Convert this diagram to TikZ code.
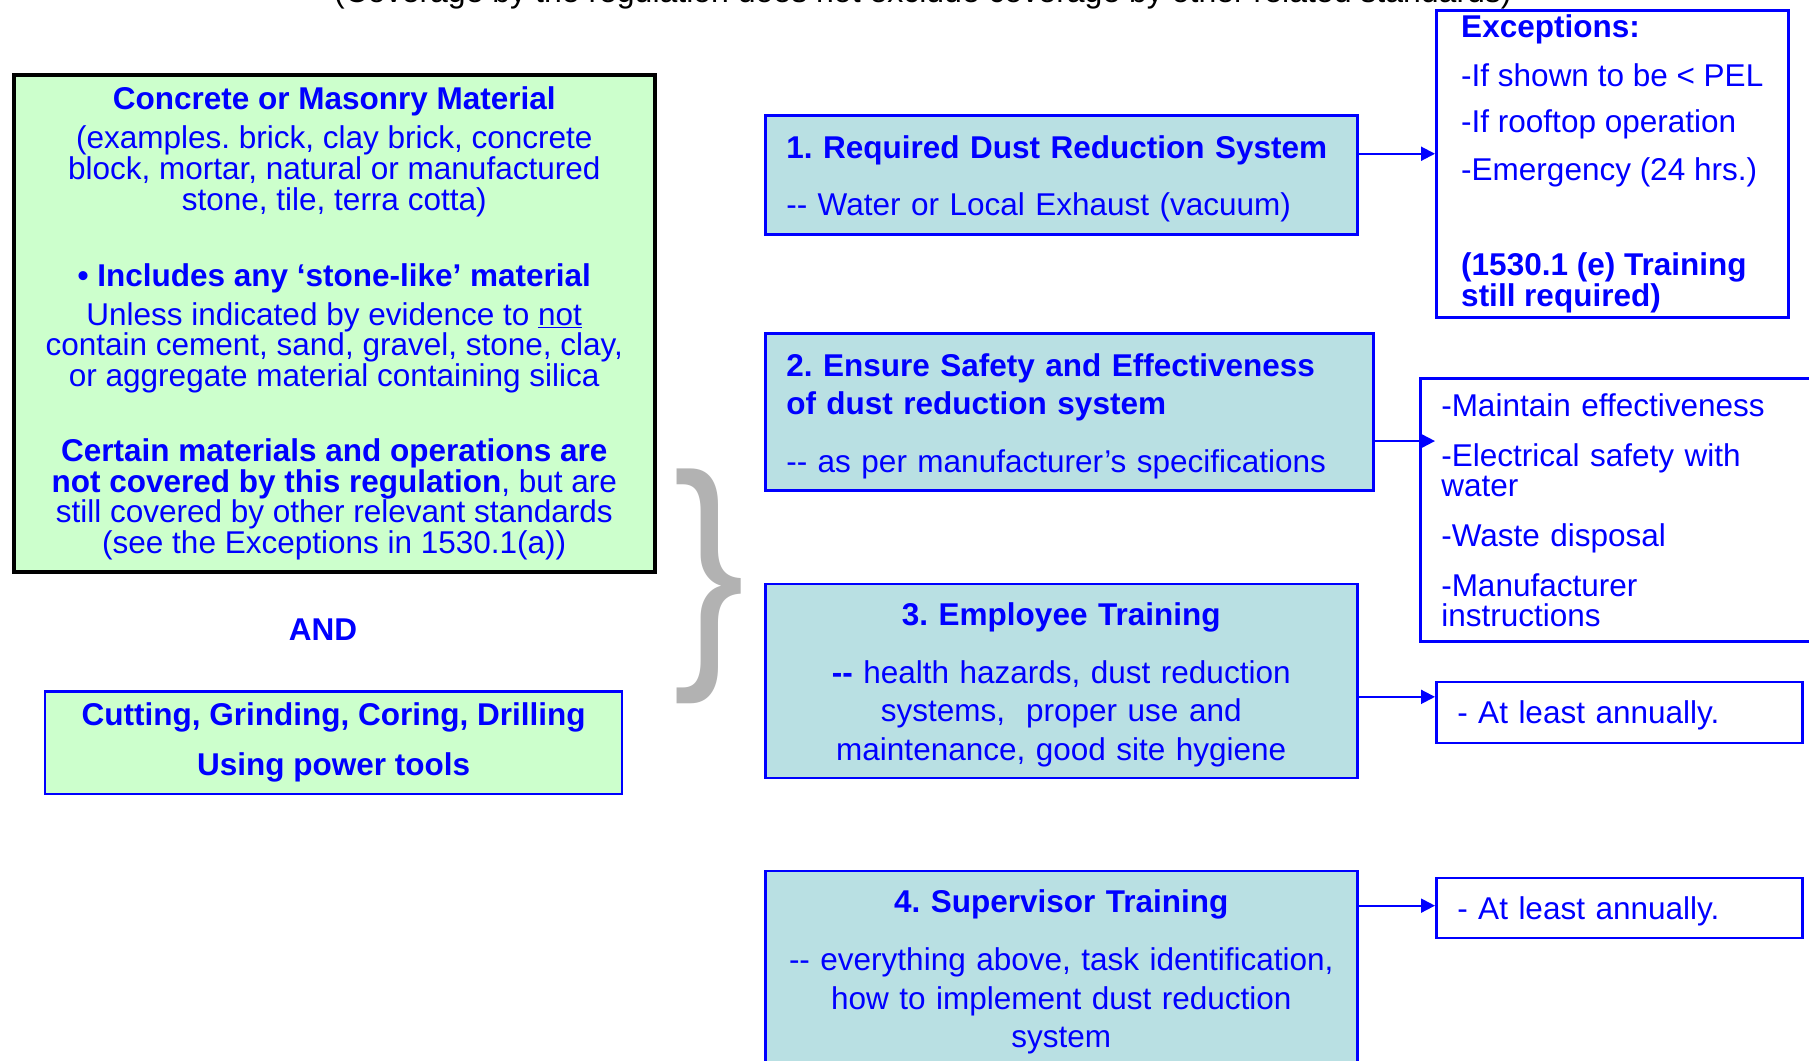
\documentclass[tikz,border=0pt]{standalone}
\usepackage{fontspec}
\setmainfont{Liberation Sans}[Ligatures=TeXOff]
\usepackage{xcolor}
\usetikzlibrary{arrows.meta}
\frenchspacing

\definecolor{txtblue}{RGB}{0,0,255}
\definecolor{mintgreen}{RGB}{204,255,204}
\definecolor{paleblue}{RGB}{185,224,227}
\definecolor{bracegray}{RGB}{178,178,178}

\tikzset{
    lowered/.style = {execute at begin node={\rule{0pt}{#1}}},
    greenbox/.style = {draw, fill=mintgreen, anchor=north west, align=center,
        text=txtblue, inner sep=0pt},
    stepbox/.style = {draw=txtblue, fill=paleblue, line width=2.5pt, anchor=north west,
        text=txtblue, inner xsep=21pt, inner ysep=0pt, lowered=31pt,
        font=\fontsize{31.5}{38.6}\selectfont},
    notebox/.style = {draw=txtblue, fill=white, line width=2.5pt, anchor=north west,
        text=txtblue, align=left, inner xsep=21pt, inner ysep=0pt},
}

\begin{document}
\begin{tikzpicture}[
        x = 1pt, y = -1pt, % one unit per pixel, y pointing down
        > = {Triangle[length=14pt, width=14pt]}, % arrow head style
        line width = 2pt, % line style
    ]
        \useasboundingbox (0,0) rectangle (1809,1060);
        \clip (0,0) rectangle (1809,1060);

        % Heading, cut by the top edge
        \node[anchor=base, font=\fontsize{32}{34}\selectfont] (head) at (923,2)
            {(Coverage by the regulation does not exclude coverage by other related standards)};

        % Left column
        \node[greenbox, line width=4.5pt, minimum width=641pt, minimum height=497pt,
            font=\fontsize{31.5}{30.6}\selectfont] (material) at (11.5,72.7) {%
            \textbf{Concrete or Masonry Material}\\[8.4pt]
            (examples. brick, clay brick, concrete\\
            block, mortar, natural or manufactured\\
            stone, tile, terra cotta)\\[45.6pt]
            \textbf{• Includes any ‘stone-like’ material}\\[8.4pt]
            Unless indicated by evidence to \underline{not}\\
            contain cement, sand, gravel, stone, clay,\\
            or aggregate material containing silica\\[44.4pt]
            \textbf{Certain materials and operations are}\\
            \textbf{not covered by this regulation}, but are\\
            still covered by other relevant standards\\
            (see the Exceptions in 1530.1(a))};
        \node[text=txtblue, font=\bfseries\fontsize{31.5}{34}\selectfont] (and) at (323,630) {AND};
        \node[greenbox, draw=txtblue, line width=2.5pt, minimum width=577pt, minimum height=102.6pt,
            font=\bfseries\fontsize{31.5}{49.6}\selectfont] (tools) at (43.8,690) {%
            Cutting, Grinding, Coring, Drilling\\
            Using power tools};

        % Brace
        \node[text=bracegray, inner sep=0pt, xscale=0.85,
            font=\fontsize{252}{252}\selectfont] (brace) at (709,586) {\}};

        % Middle column
        \node[stepbox, text width=550pt, align=left, minimum height=119pt] (req) at (764,114) {%
            \textbf{1. Required Dust Reduction System}\\[19.1pt]
            -- Water or Local Exhaust (vacuum)};
        \node[stepbox, text width=566pt, align=left, minimum height=157pt] (ens) at (764,332.3) {%
            \textbf{2. Ensure Safety and Effectiveness}\\
            \textbf{of dust reduction system}\\[19.1pt]
            -- as per manufacturer’s specifications};
        \node[stepbox, text width=550pt, align=center, minimum height=194pt] (emp) at (764,582.6) {%
            \textbf{3. Employee Training}\\[19.1pt]
            \textbf{--} health hazards, dust reduction\\
            systems,~ proper use and\\
            maintenance, good site hygiene};
        \node[stepbox, text width=550pt, align=center, minimum height=194pt] (sup) at (764,869.9) {%
            \textbf{4. Supervisor Training}\\[19.1pt]
            -- everything above, task identification,\\
            how to implement dust reduction\\
            system};

        % Right column
        \node[notebox, inner xsep=0pt, minimum width=352pt, minimum height=307pt, lowered=27pt,
            font=\fontsize{31.5}{27.7}\selectfont] (exc) at (1435,9) {%
            \textbf{Exceptions:}\\[18.3pt]
            -If shown to be < PEL\\[18.3pt]
            -If rooftop operation\\[18.3pt]
            -Emergency (24 hrs.)\\[64.3pt]
            \textbf{(1530.1 (e) Training}\\
            \textbf{still required)}};
        \node[notebox, text width=369pt, minimum height=263pt,
            font=\fontsize{31.5}{30}\selectfont] (mnt) at (1419,377) {%
            -Maintain effectiveness\\[20pt]
            -Electrical safety with\\
            water\\[20pt]
            -Waste disposal\\[20pt]
            -Manufacturer\\
            instructions};
        \node[notebox, text width=324pt, minimum height=61pt, lowered=29pt,
            font=\fontsize{31.5}{34}\selectfont] (ann1) at (1435,680.7) {- At least annually.};
        \node[notebox, text width=324pt, minimum height=60pt, lowered=29pt,
            font=\fontsize{31.5}{34}\selectfont] (ann2) at (1435,876.8) {- At least annually.};

        % Draw the arrows
        \foreach \b/\e/\dy/\dx in {
            req/exc/-21/0,
            ens/mnt/29/16,
            emp/ann1/16/0,
            sup/ann2/-62.5/0} {
            \coordinate (s) at ([shift={(0,\dy)}]\b.east);
            \coordinate (t) at (s -| \e.west);
            \draw[->, draw=txtblue, fill=txtblue] (s) -- ([xshift=\dx pt]t);
        }
    \end{tikzpicture}
\end{document}
